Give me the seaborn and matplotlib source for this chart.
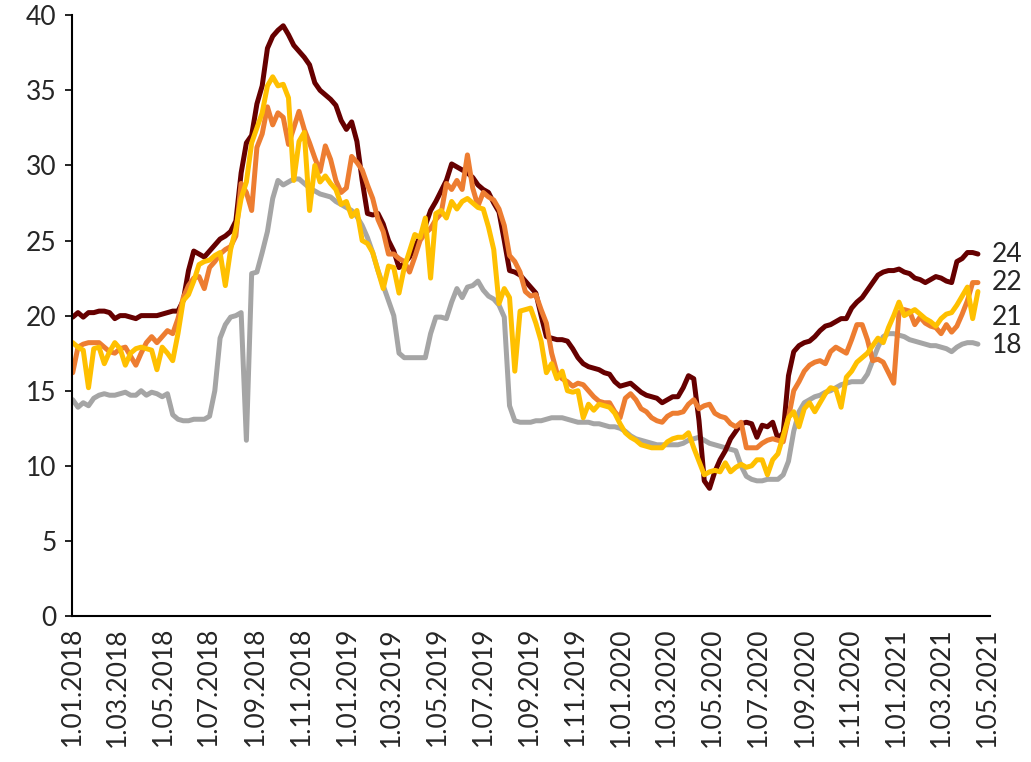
import pandas as pd
import numpy as np
import seaborn as sns
import matplotlib.pyplot as plt

# weekly series, 1.01.2018 .. 19.04.2021
start = "2018-01-01"
series_names = ["24", "22", "21", "18"]

s24 = [19.9, 20.2, 19.9, 20.2, 20.2, 20.3, 20.3, 20.2, 19.8, 20.0,
       20.0, 19.9, 19.8, 20.0, 20.0, 20.0, 20.0, 20.1, 20.2, 20.3,
       20.3, 21.0, 23.0, 24.3, 24.1, 23.9, 24.3, 24.7, 25.1, 25.3,
       25.6, 26.3, 29.5, 31.5, 32.0, 34.1, 35.3, 37.8, 38.6, 39.0,
       39.3, 38.7, 38.0, 37.6, 37.2, 36.7, 35.5, 35.0, 34.7, 34.4,
       34.0, 33.0, 32.4, 32.9, 31.6, 29.0, 26.8, 26.7, 26.8, 26.1,
       25.0, 24.3, 23.2, 23.5, 23.9, 24.6, 25.2, 26.0, 27.0, 27.6,
       28.3, 29.0, 30.1, 29.9, 29.7, 29.5, 29.2, 28.7, 28.4, 28.2,
       27.5, 26.9, 25.0, 23.0, 22.9, 22.7, 22.3, 21.9, 21.5, 20.0,
       18.6, 18.5, 18.4, 18.4, 18.3, 17.8, 17.2, 16.8, 16.6, 16.5,
       16.4, 16.2, 16.1, 15.6, 15.3, 15.4, 15.5, 15.2, 14.9, 14.7,
       14.6, 14.5, 14.2, 14.4, 14.6, 14.6, 15.2, 16.0, 15.8, 13.0,
       9.0, 8.5, 9.6, 10.4, 11.0, 11.8, 12.3, 12.8, 12.9, 12.8,
       11.9, 12.7, 12.6, 12.9, 11.8, 12.2, 16.0, 17.6, 18.0, 18.2,
       18.3, 18.6, 19.0, 19.3, 19.4, 19.6, 19.8, 19.8, 20.5, 20.9,
       21.2, 21.7, 22.2, 22.7, 22.9, 23.0, 23.0, 23.1, 22.9, 22.8,
       22.5, 22.4, 22.2, 22.4, 22.6, 22.5, 22.3, 22.2, 23.6, 23.8,
       24.2, 24.2, 24.1]

s22 = [16.2, 17.9, 18.1, 18.2, 18.2, 18.2, 17.9, 17.6, 17.5, 17.8,
       17.9, 17.3, 16.7, 17.5, 18.2, 18.6, 18.2, 18.6, 19.0, 18.8,
       19.8, 21.2, 22.0, 22.5, 22.6, 21.8, 23.2, 23.6, 24.1, 24.4,
       24.6, 25.3, 28.8, 28.2, 27.0, 31.2, 32.1, 33.9, 32.7, 33.5,
       33.2, 31.4, 32.5, 33.6, 32.4, 31.5, 30.5, 29.6, 31.3, 30.4,
       29.0, 28.2, 28.5, 30.6, 30.2, 29.7, 28.7, 27.8, 26.4, 25.6,
       24.1, 24.1, 23.8, 23.6, 22.9, 23.9, 25.0, 25.5, 25.8, 26.4,
       26.8, 28.8, 28.4, 29.0, 28.4, 30.7, 28.5, 27.3, 28.2, 27.9,
       27.7, 27.1, 26.0, 24.0, 23.6, 22.9, 21.6, 21.3, 21.4, 20.4,
       19.5, 17.5, 16.2, 15.8, 15.6, 15.3, 15.5, 15.4, 15.0, 14.6,
       14.3, 14.2, 14.2, 13.6, 13.2, 14.5, 14.8, 14.4, 13.8, 13.6,
       13.2, 13.0, 12.9, 13.3, 13.5, 13.5, 13.6, 14.1, 14.4, 13.8,
       14.0, 14.1, 13.5, 13.3, 13.2, 12.8, 12.6, 12.9, 11.2, 11.2,
       11.2, 11.5, 11.7, 11.8, 11.7, 11.6, 13.2, 15.0, 15.6, 16.3,
       16.7, 16.9, 17.0, 16.8, 17.6, 17.9, 17.7, 17.5, 18.4, 19.4,
       19.4, 18.4, 17.0, 17.1, 16.9, 16.2, 15.5, 20.2, 20.4, 20.3,
       19.4, 19.9, 19.5, 19.3, 19.2, 18.8, 19.4, 18.9, 19.3, 20.1,
       21.0, 22.2, 22.2]

s21 = [18.2, 17.9, 17.7, 15.2, 17.8, 17.9, 16.8, 17.6, 18.2, 17.8,
       16.7, 17.5, 17.8, 17.9, 17.8, 17.7, 16.4, 17.9, 17.5, 17.0,
       18.8, 21.0, 21.4, 22.3, 23.4, 23.6, 23.7, 24.0, 24.2, 22.0,
       24.4, 25.8, 27.8, 28.9, 31.5, 32.5, 33.5, 35.3, 35.9, 35.3,
       35.4, 34.5, 29.0, 31.6, 32.2, 27.0, 30.0, 28.9, 29.3, 28.8,
       28.4, 27.4, 27.6, 26.6, 27.0, 25.0, 24.8, 24.2, 23.0, 21.8,
       23.3, 23.2, 21.5, 23.2, 24.3, 25.4, 25.2, 26.5, 22.5, 26.8,
       27.0, 26.5, 27.6, 27.1, 27.6, 27.8, 27.5, 27.2, 27.1, 25.9,
       24.4, 20.8, 21.8, 21.2, 16.3, 20.3, 20.4, 20.5, 19.5, 18.3,
       16.2, 16.8, 15.8, 16.3, 15.0, 14.9, 15.0, 13.2, 14.1, 13.7,
       14.1, 14.0, 13.9, 13.5, 12.8, 12.2, 11.9, 11.7, 11.4, 11.3,
       11.2, 11.2, 11.2, 11.6, 11.8, 11.9, 11.9, 12.2, 11.2, 10.3,
       9.4, 9.6, 9.7, 9.6, 10.2, 9.6, 9.9, 10.1, 9.9, 10.0,
       10.4, 10.4, 9.4, 10.4, 10.8, 12.0, 13.2, 13.6, 12.6, 13.8,
       14.2, 13.6, 14.2, 14.8, 15.2, 15.1, 13.9, 15.9, 16.3, 16.9,
       17.2, 17.5, 18.0, 18.5, 18.2, 19.2, 20.0, 20.9, 20.0, 20.2,
       20.4, 20.1, 19.8, 19.6, 19.3, 19.8, 20.1, 20.2, 20.7, 21.3,
       21.9, 19.8, 21.6]

s18 = [14.4, 13.9, 14.2, 14.0, 14.5, 14.7, 14.8, 14.7, 14.7, 14.8,
       14.9, 14.7, 14.7, 15.0, 14.7, 14.9, 14.8, 14.6, 14.8, 13.4,
       13.1, 13.0, 13.0, 13.1, 13.1, 13.1, 13.3, 15.0, 18.5, 19.4,
       19.9, 20.0, 20.2, 11.7, 22.8, 22.9, 24.2, 25.6, 27.8, 29.0,
       28.7, 28.9, 29.1, 29.1, 28.8, 28.5, 28.3, 28.1, 28.0, 27.9,
       27.6, 27.4, 27.2, 27.0, 26.6, 26.0, 25.2, 24.2, 23.0, 22.0,
       21.0, 20.0, 17.5, 17.2, 17.2, 17.2, 17.2, 17.2, 18.8, 19.9,
       19.9, 19.8, 20.9, 21.8, 21.2, 21.9, 22.0, 22.3, 21.7, 21.3,
       21.1, 20.7, 19.9, 14.0, 13.0, 12.9, 12.9, 12.9, 13.0, 13.0,
       13.1, 13.2, 13.2, 13.2, 13.1, 13.0, 12.9, 12.9, 12.9, 12.8,
       12.8, 12.7, 12.6, 12.6, 12.5, 12.3, 12.0, 11.8, 11.7, 11.6,
       11.5, 11.4, 11.4, 11.4, 11.4, 11.4, 11.5, 11.7, 11.8, 11.9,
       11.7, 11.5, 11.4, 11.3, 11.2, 11.1, 11.0, 10.0, 9.3, 9.1,
       9.0, 9.0, 9.1, 9.1, 9.1, 9.4, 10.3, 12.3, 13.6, 14.2,
       14.4, 14.6, 14.7, 14.9, 15.0, 15.2, 15.4, 15.5, 15.6, 15.6,
       15.6, 16.1, 17.0, 17.9, 18.6, 18.8, 18.8, 18.7, 18.6, 18.4,
       18.3, 18.2, 18.1, 18.0, 18.0, 17.9, 17.8, 17.6, 17.9, 18.1,
       18.2, 18.2, 18.1]

colors = {"24": "#660000", "22": "#ED7D31", "21": "#FFC000", "18": "#A5A5A5"}

dates = pd.date_range(start, periods=len(s24), freq="7D")
df = pd.DataFrame({"date": dates, "24": s24, "22": s22, "21": s21, "18": s18})
long = df.melt(id_vars="date", var_name="series", value_name="value")

sns.set_style("white")
plt.rcParams['font.family'] = ['Lato', 'DejaVu Sans']

fig = plt.figure(figsize=(10.31, 7.62), dpi=100)
ax = fig.add_axes([0.0698, 0.1916, 0.8904, 0.7884])

# gray at the bottom, yellow on top
order = ["18", "24", "22", "21"]
for name in order:
    sns.lineplot(data=long[long["series"] == name], x="date", y="value",
                 color=colors[name], linewidth=3.6, ax=ax, legend=False)

ax.set_ylim(0, 40)
ax.set_yticks(range(0, 41, 5))
ax.set_xlim(pd.Timestamp("2017-12-31"), pd.Timestamp("2021-05-05"))
ticks = pd.date_range("2018-01-01", "2021-05-01", freq="2MS")
ax.set_xticks(ticks)
ax.set_xticklabels([f"{d.day}.{d.month:02d}.{d.year}" for d in ticks], rotation=90)
ax.set_xlabel("")
ax.set_ylabel("")

for sp in ["top", "right"]:
    ax.spines[sp].set_visible(False)
for sp in ["left", "bottom"]:
    ax.spines[sp].set_color("black")
    ax.spines[sp].set_linewidth(1.5)

ax.tick_params(axis="y", length=5, width=1.2, color="black", labelsize=19, pad=6, left=True)
ax.tick_params(axis="x", length=0, labelsize=19, pad=8)

# series labels at the right end
nudge = {"24": 0, "22": 0, "21": -19, "18": -1}
for name in series_names:
    ax.annotate(name, xy=(dates[-1], df[name].iloc[-1]), xytext=(10, nudge[name]),
                textcoords="offset points", va="center", ha="left",
                fontsize=19, annotation_clip=False)

fig.savefig("out.png", dpi=100)
